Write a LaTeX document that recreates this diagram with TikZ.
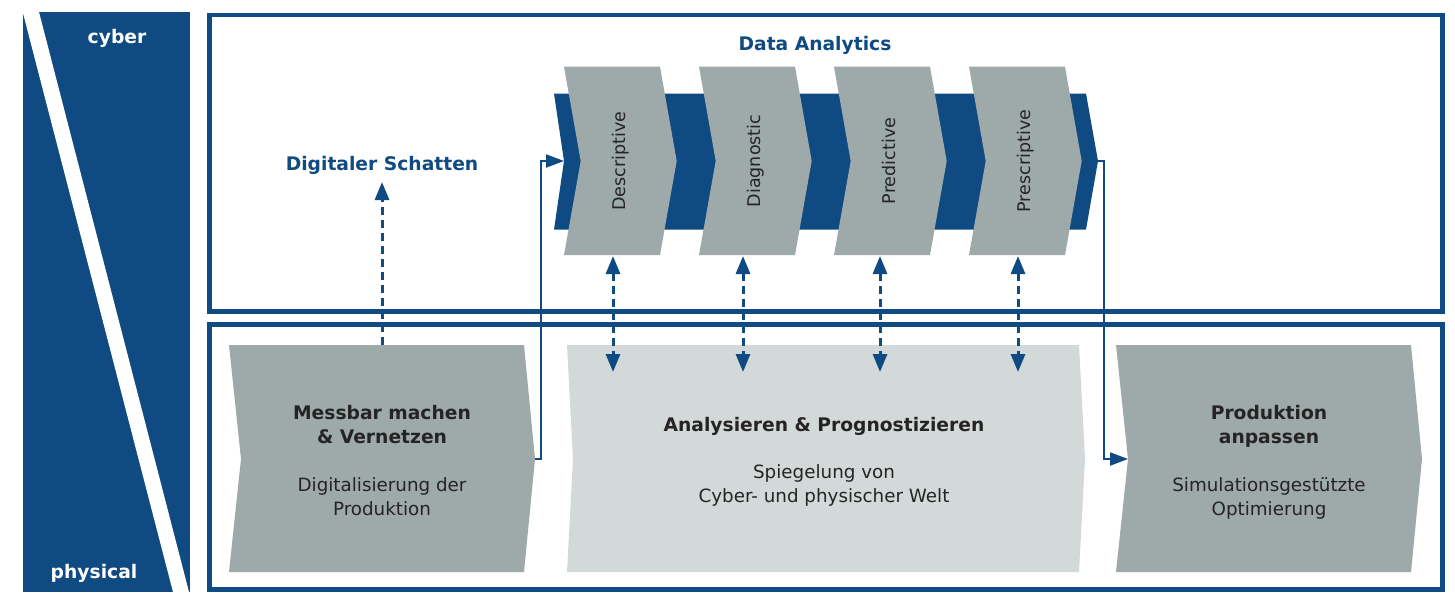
\documentclass[tikz,border=0pt]{standalone}
\usepackage{fontspec}
\setmainfont{DejaVu Sans}
\usetikzlibrary{arrows.meta}
\definecolor{cpsblue}{RGB}{16,74,130}
\definecolor{chevgray}{RGB}{157,170,169}
\definecolor{palegray}{RGB}{211,217,217}
\definecolor{txtdark}{RGB}{38,35,36}
\tikzset{
  frame/.style={draw=cpsblue, line width=4.6pt},
  chev/.style={fill=chevgray},
  palebox/.style={fill=palegray},
  vlabel/.style={rotate=90, anchor=base, inner sep=0pt, text=txtdark, font=\fontsize{17.5}{20}\selectfont},
  boldtxt/.style={anchor=base, inner sep=0pt, text=txtdark, font=\bfseries\fontsize{18.7}{24}\selectfont},
  regtxt/.style={anchor=base, inner sep=0pt, text=txtdark, font=\fontsize{18.3}{24}\selectfont},
  bluetxt/.style={anchor=base, inner sep=0pt, text=cpsblue, font=\bfseries\fontsize{18.7}{24}\selectfont},
  whitetxt/.style={anchor=base, inner sep=0pt, text=white, font=\bfseries\fontsize{18.7}{24}\selectfont},
  flow/.style={draw=cpsblue, line width=2pt, -{Triangle[length=18pt,width=13pt]}},
  link/.style={draw=cpsblue, line width=3pt, dash pattern=on 8pt off 5pt, {Triangle[length=18pt,width=14pt]}-{Triangle[length=18pt,width=14pt]}},
  shadow/.style={draw=cpsblue, line width=3pt, dash pattern=on 8pt off 5pt, -{Triangle[length=18pt,width=14pt]}}
}
\begin{document}
\begin{tikzpicture}[x=1pt,y=-1pt]
\useasboundingbox (0,0) rectangle (1455,592);
\fill[white] (0,0) rectangle (1455,592);

% left cyber/physical bar
\fill[cpsblue] (23,12) rectangle (190,592);
\fill[white] (22.7,12) -- (39,12) -- (189,592) -- (173,592) -- cycle;
\node[whitetxt] (tcyber) at (117,43) {cyber};
\node[whitetxt] (tphys) at (94,578) {physical};

% frames
\draw[frame] (209.3,14.8) rectangle (1442.7,311.7);
\draw[frame] (209.3,324.6) rectangle (1442.7,589.7);

% data analytics band
\fill[cpsblue] (554,93.5) -- (1086,93.5) -- (1098,161) -- (1086,229.5) -- (554,229.5) -- (564,161) -- cycle;
\foreach \k in {0,1,2,3}{
  \pgfmathsetmacro{\xo}{564+135*\k}
  \fill[chev] (\xo,66.7) -- (\xo+96,66.7) -- (\xo+112.7,161) -- (\xo+96,255) -- (\xo,255) -- (\xo+16.7,161) -- cycle;
}
\node[vlabel] (vdesc) at (625,161) {Descriptive};
\node[vlabel] (vdiag) at (760,161) {Diagnostic};
\node[vlabel] (vpred) at (895,161) {Predictive};
\node[vlabel] (vpres) at (1030,161) {Prescriptive};
\node[bluetxt] (tda) at (815,50.5) {Data Analytics};
\node[bluetxt] (tds) at (382,170) {Digitaler Schatten};

% bottom boxes
\fill[chev] (229,345) -- (524,345) -- (535,459) -- (524,572) -- (229,572) -- (241,459) -- cycle;
\fill[palebox] (567,345) -- (1079,345) -- (1085,459) -- (1079,572) -- (567,572) -- (573,459) -- cycle;
\fill[chev] (1116,345) -- (1411,345) -- (1422,459) -- (1411,572) -- (1116,572) -- (1128,459) -- cycle;

\node[boldtxt] (ms1) at (382,419) {Messbar machen};
\node[boldtxt] (ms2) at (382,443) {\& Vernetzen};
\node[regtxt] (ms3) at (382,491) {Digitalisierung der};
\node[regtxt] (ms4) at (382,515) {Produktion};

\node[boldtxt] (an1) at (824,431) {Analysieren \& Prognostizieren};
\node[regtxt] (an2) at (824,478) {Spiegelung von};
\node[regtxt] (an3) at (824,502) {Cyber- und physischer Welt};

\node[boldtxt] (pr1) at (1269,419) {Produktion};
\node[boldtxt] (pr2) at (1269,443) {anpassen};
\node[regtxt] (pr3) at (1269,491) {Simulationsgestützte};
\node[regtxt] (pr4) at (1269,515) {Optimierung};

% connection points
\coordinate (msR) at (535,459);
\coordinate (bandL) at (564,161);
\coordinate (bandR) at (1098,161);
\coordinate (prL) at (1128,459);
\coordinate (msTop) at (382,345);
\coordinate (dsBot) at (382,182);
\foreach \x/\n in {613/a,743/b,880/c,1018/d}{
  \coordinate (up\n) at (\x,256);
  \coordinate (dn\n) at (\x,372);
}

% connectors
\draw[flow] (msR) -- ++(6,0) |- (bandL);
\draw[flow] (bandR) -- ++(6,0) |- (prL);
\draw[shadow] (msTop) -- (dsBot);
\foreach \n in {a,b,c,d}{ \draw[link] (up\n) -- (dn\n); }
\end{tikzpicture}
\end{document}
